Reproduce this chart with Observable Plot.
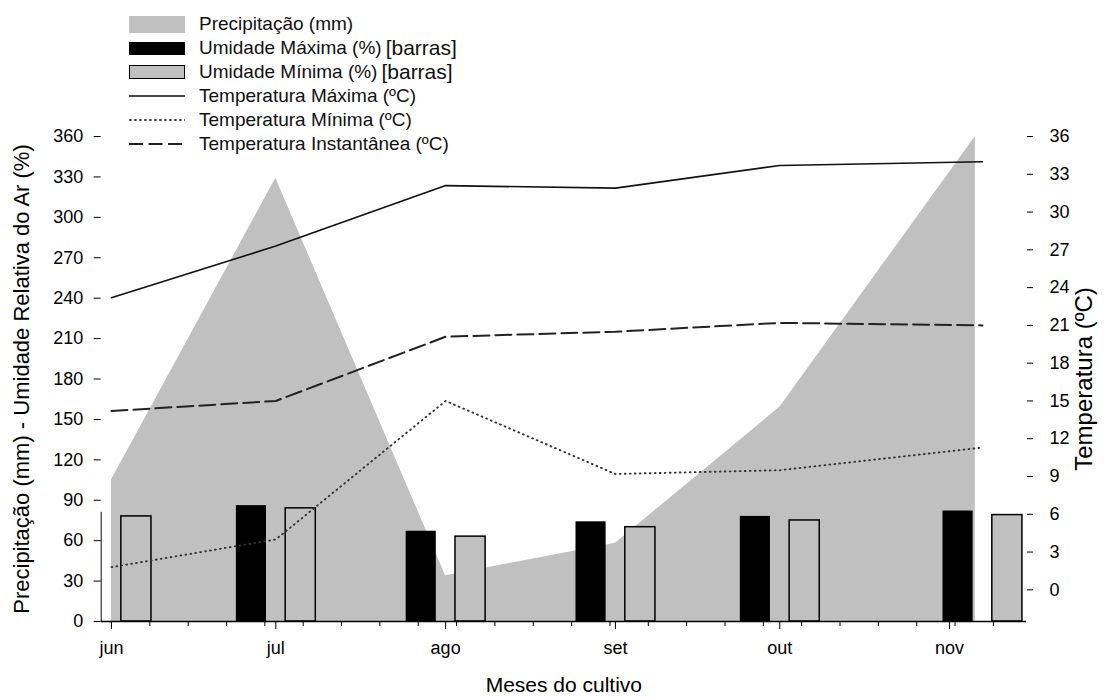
<!DOCTYPE html>
<html>
<head>
<meta charset="utf-8">
<script src="https://cdn.jsdelivr.net/npm/d3@7"></script>
<script src="https://cdn.jsdelivr.net/npm/@observablehq/plot@0.6"></script>
<style>
  body { margin: 0; background: #fff; font-family: "Liberation Sans", Arial, sans-serif; }
  #wrap { position: relative; width: 1108px; height: 697px; }
  #legend { position: absolute; left: 129px; top: 12.4px; color: #111; font-size: 19px; }
  .row { display: flex; align-items: center; height: 23.9px; white-space: nowrap; }
  .sw { width: 56px; height: 23.9px; display: flex; align-items: center; margin-right: 14px; }
  .big { font-size: 21px; margin-left: 4px; }
</style>
</head>
<body>
<div id="wrap"><div id="chart"></div><div id="legend"></div></div>
<script>
// ---- data ----
const months = ["jun", "jul", "ago", "set", "out", "nov"];
const monthStarts = ["2019-06-01", "2019-07-01", "2019-08-01", "2019-09-01", "2019-10-01", "2019-11-01"];
const obsDates = ["2019-06-01", "2019-07-01", "2019-08-01", "2019-09-01", "2019-10-01", "2019-11-07"];
const precipDates = ["2019-06-01", "2019-07-01", "2019-08-01", "2019-09-01", "2019-10-01", "2019-11-05T17:00Z"];
const precipitacao = [105, 329, 34, 58, 159, 360];          // mm
const umidadeMax = [81, 86, 67, 74, 78, 82];                 // %
const umidadeMin = [78, 84, 63, 70, 75, 79];                 // %
const tempMax = [23.2, 27.3, 32.1, 31.9, 33.7, 34.0];        // ºC
const tempMin = [1.8, 4.0, 15.0, 9.2, 9.5, 11.3];            // ºC
const tempInst = [14.2, 15.0, 20.1, 20.5, 21.2, 21.0];       // ºC
const leftTicks = d3.range(0, 361, 30);
const tempTicks = d3.range(0, 37, 3);

// ---- helpers ----
const DAY = 864e5;
const shift = (d, days) => new Date(d.getTime() + days * DAY);
const T0 = 23.5, PER = 9.347;             // right (ºC) axis expressed in left-axis units
const tToY = t => T0 + t * PER;
const yToT = y => (y - T0) / PER;

const monthDates = monthStarts.map(d => new Date(d));
const obs = obsDates.map((d, i) => ({
  date: new Date(d), umMax: umidadeMax[i], umMin: umidadeMin[i],
  tMax: tempMax[i], tMin: tempMin[i], tInst: tempInst[i]
}));
const prec = precipDates.map((d, i) => ({date: new Date(d), p: precipitacao[i]}));

const xStart = new Date(Date.UTC(2019, 4, 30, 3));
const xEnd = new Date(Date.UTC(2019, 10, 15, 1));
const weekTicks = d3.utcDay.range(monthDates[0], xEnd, 7);

const chart = Plot.plot({
  width: 1108, height: 697,
  marginTop: 136, marginBottom: 76, marginLeft: 100.7, marginRight: 82,
  style: {fontFamily: "Liberation Sans, Arial, sans-serif", color: "#000", background: "#fff"},
  x: {type: "utc", domain: [xStart, xEnd]},
  y: {domain: [0, 360]},
  marks: [
    Plot.areaY(prec, {x: "date", y: "p", fill: "#c0c0c0"}),
    Plot.rectY(obs, {x1: d => shift(d.date, -7.2), x2: d => shift(d.date, -1.7), y: "umMax", fill: "#000", clip: true}),
    Plot.rectY(obs, {x1: d => shift(d.date, 1.8), x2: d => shift(d.date, 7.3), y: "umMin", fill: "#c0c0c0", stroke: "#000", strokeWidth: 1.5, clip: true}),
    Plot.lineY(obs, {x: "date", y: d => tToY(d.tMax), stroke: "#111", strokeWidth: 1.6}),
    Plot.lineY(obs, {x: "date", y: d => tToY(d.tInst), stroke: "#222", strokeWidth: 2, strokeDasharray: "16,6"}),
    Plot.lineY(obs, {x: "date", y: d => tToY(d.tMin), stroke: "#333", strokeWidth: 1.9, strokeDasharray: "0.8,4.2", strokeLinecap: "round"}),
    Plot.ruleY([0], {stroke: "#000", strokeWidth: 1.5}),
    Plot.axisY(leftTicks, {anchor: "left", tickSize: 7, tickPadding: 11, fontSize: 18, line: true, label: null}),
    Plot.axisY([], {anchor: "left", label: "Precipitação (mm) - Umidade Relativa do Ar (%)", labelAnchor: "center", labelArrow: "none", labelOffset: 88, fontSize: 22}),
    Plot.axisY(tempTicks.map(tToY), {anchor: "right", tickSize: 6, tickPadding: 17, fontSize: 18, line: true, label: null, tickFormat: v => String(Math.round(yToT(v)))}),
    Plot.axisY([], {anchor: "right", label: "Temperatura (ºC)", labelAnchor: "center", labelArrow: "none", labelOffset: 65, fontSize: 24}),
    Plot.axisX(weekTicks, {anchor: "bottom", tickSize: 5, tickFormat: () => "", label: null}),
    Plot.axisX(monthDates, {anchor: "bottom", tickSize: 8, tickPadding: 12, fontSize: 18, label: null,
      tickFormat: d => months[monthDates.findIndex(m => +m === +d)]}),
    Plot.axisX([], {anchor: "bottom", label: "Meses do cultivo", labelAnchor: "center", labelArrow: "none", labelOffset: 70, fontSize: 21})
  ]
});
document.getElementById("chart").appendChild(chart);

// ---- legend (overlaid at the top-left, as in the original) ----
const legendItems = [
  {label: "Precipitação (mm)", sw: '<div style="width:56px;height:16.7px;background:#c0c0c0"></div>'},
  {label: "Umidade Máxima (%)", extra: "[barras]", sw: '<div style="width:56px;height:13.3px;background:#000"></div>'},
  {label: "Umidade Mínima (%)", extra: "[barras]", sw: '<div style="width:56px;height:13.3px;background:#c0c0c0;border:1.5px solid #000;box-sizing:border-box"></div>'},
  {label: "Temperatura Máxima (ºC)", sw: '<svg width="56" height="10"><line x1="0" x2="56" y1="5" y2="5" stroke="#111" stroke-width="1.6"/></svg>'},
  {label: "Temperatura Mínima (ºC)", sw: '<svg width="56" height="10"><line x1="1" x2="56" y1="5" y2="5" stroke="#333" stroke-width="1.9" stroke-dasharray="0.8,4.2" stroke-linecap="round"/></svg>'},
  {label: "Temperatura Instantânea (ºC)", sw: '<svg width="56" height="10"><line x1="0" x2="56" y1="5" y2="5" stroke="#222" stroke-width="2" stroke-dasharray="14,5.5"/></svg>'}
];
const legend = document.getElementById("legend");
legendItems.forEach(it => {
  const row = document.createElement("div");
  row.className = "row";
  row.innerHTML = `<div class="sw">${it.sw}</div><span>${it.label}</span>` + (it.extra ? `<span class="big">${it.extra}</span>` : "");
  legend.appendChild(row);
});
</script>
</body>
</html>
